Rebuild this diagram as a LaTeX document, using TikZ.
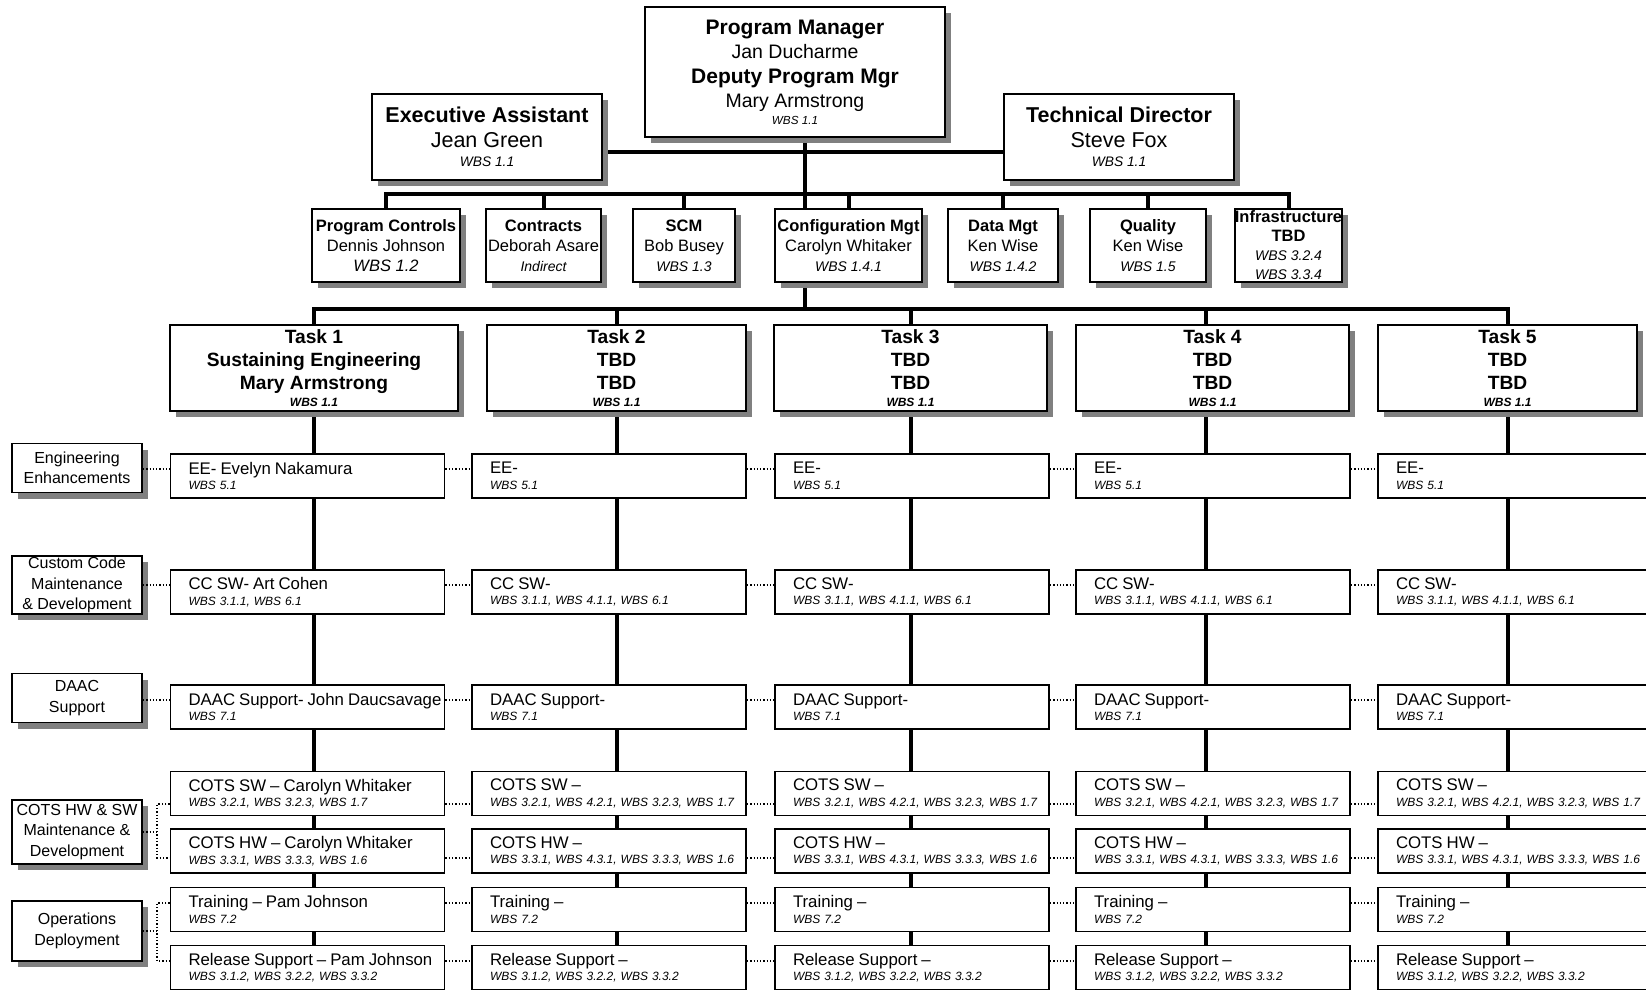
\documentclass[tikz,border=0pt]{standalone}
\usepackage{fontspec}
\setmainfont{Liberation Sans}
\usetikzlibrary{backgrounds,shadows}
\newcommand{\fsz}[2]{\fontsize{#1}{#2}\selectfont}

\begin{document}
\begin{tikzpicture}[x=1pt,y=-1pt,
    box/.style={draw,line width=1.8pt,fill=white,inner sep=0pt,align=center},
    shd/.style={general shadow={fill=black!50,shadow xshift=6pt,shadow yshift=-6pt}},
    head/.style={box,shd,font=\fsz{21.5}{25}},
    staff/.style={box,shd,minimum height=73pt,font=\fsz{16.5}{20}},
    task/.style={box,shd,minimum height=86pt,font=\fsz{19.2}{23}\bfseries},
    sub/.style={box,minimum height=44pt,text width=238pt,inner xsep=18pt,align=left,font=\fsz{12}{15.5}},
    cat/.style={box,shd,minimum width=130pt,font=\fsz{16}{20.5}},
    link/.style={line width=4pt,line cap=rect},
    dot/.style={dotted,line width=1.3pt}]
\useasboundingbox (0,0) rectangle (1646,989);

\coordinate (eb) at (805,152);
\coordinate (sb) at (805,194);
\coordinate (tb) at (805,309);
\coordinate (bx) at (157,0);
\foreach \r/\y in {1/469,2/585,3/700,4/804,5/858,6/903,7/961}
  \coordinate (dl\r) at (0,\y);

% management
\node[head,minimum width=300,minimum height=130,font=\fsz{21}{24.5}] (pm) at (795,72)
  {\textbf{Program Manager}\\{\fsz{19.5}{24}Jan Ducharme}\\\textbf{Deputy Program Mgr}\\{\fsz{19.5}{24}Mary Armstrong}\\[-8pt]{\fsz{11.7}{14}\itshape WBS 1.1}};
\node[head,minimum width=230,minimum height=86] (ea) at (487,137)
  {\textbf{Executive Assistant}\\Jean Green\\[-5.5pt]{\fsz{13.8}{16}\itshape WBS 1.1}};
\node[head,minimum width=230,minimum height=86] (td) at (1119,137)
  {\textbf{Technical Director}\\Steve Fox\\[-5.5pt]{\fsz{13.8}{16}\itshape WBS 1.1}};

% staff
\node[staff,minimum width=148] (pc) at (386,245.5)
  {\textbf{Program Controls}\\Dennis Johnson\\\textit{WBS 1.2}};
\foreach \n/\x/\w/\ttl/\who/\wbs in {con/543.5/115/Contracts/Deborah Asare/Indirect,
    scm/684/102/SCM/Bob Busey/WBS 1.3, cfg/848.5/147/Configuration Mgt/Carolyn Whitaker/WBS 1.4.1,
    dat/1003/110/Data Mgt/Ken Wise/WBS 1.4.2, qua/1148/116/Quality/Ken Wise/WBS 1.5}
  \node[staff,minimum width=\w] (\n) at (\x,245.5)
    {\textbf{\ttl}\\\who\\{\fsz{14}{16}\itshape\wbs}};
\node[staff,minimum width=107,font=\fsz{16.5}{19}] (inf) at (1288.5,245.5)
  {\textbf{Infrastructure}\\\textbf{TBD}\\{\fsz{14}{16}\itshape WBS 3.2.4}\\{\fsz{14}{16}\itshape WBS 3.3.4}};

% tasks
\foreach \c/\x/\w/\ttl/\who in {1/314/288/Sustaining Engineering/Mary Armstrong,
    2/616.5/259/TBD/TBD, 3/910.5/273/TBD/TBD, 4/1212.5/273/TBD/TBD, 5/1507.5/259/TBD/TBD}
  \node[task,minimum width=\w] (t\c) at (\x,368)
    {Task \c\\\ttl\\\who\\[-6.7pt]{\fsz{12}{14}\itshape WBS 1.1}};

% work packages
\foreach \r/\y/\ttl/\wbs in {1/476/EE- Evelyn Nakamura/{WBS 5.1},
    2/592/CC SW- Art Cohen/{WBS 3.1.1, WBS 6.1},
    3/707/DAAC Support- John Daucsavage/{WBS 7.1},
    4/793.5/COTS SW – Carolyn Whitaker/{WBS 3.2.1, WBS 3.2.3, WBS 1.7},
    5/851/COTS HW – Carolyn Whitaker/{WBS 3.3.1, WBS 3.3.3, WBS 1.6},
    6/909.5/Training – Pam Johnson/{WBS 7.2},
    7/967.5/Release Support – Pam Johnson/{WBS 3.1.2, WBS 3.2.2, WBS 3.3.2}}
  \node[sub] (s1\r) at (307.5,\y) {\mbox{\fsz{16.8}{19}\ttl}\\\mbox{\itshape\wbs}};
\foreach \c/\xc in {2/609,3/912,4/1213,5/1515}
  \foreach \r/\y/\ttl/\wbs in {1/476/EE-/{WBS 5.1},
      2/592/CC SW-/{WBS 3.1.1, WBS 4.1.1, WBS 6.1},
      3/707/DAAC Support-/{WBS 7.1},
      4/793.5/COTS SW –/{WBS 3.2.1, WBS 4.2.1, WBS 3.2.3, WBS 1.7},
      5/851/COTS HW –/{WBS 3.3.1, WBS 4.3.1, WBS 3.3.3, WBS 1.6},
      6/909.5/Training –/{WBS 7.2},
      7/967.5/Release Support –/{WBS 3.1.2, WBS 3.2.2, WBS 3.3.2}}
    \node[sub] (s\c\r) at (\xc,\y) {\mbox{\fsz{16.8}{19}\ttl}\\\mbox{\itshape\wbs}};

% categories
\node[cat,minimum height=49] (cat1) at (77,468) {Engineering\\Enhancements};
\node[cat,minimum height=58] (cat2) at (77,585) {Custom Code\\Maintenance\\\& Development};
\node[cat,minimum height=49] (cat3) at (77,698) {DAAC\\Support};
\node[cat,minimum height=64] (cat4) at (77,832) {COTS HW \& SW\\Maintenance \&\\Development};
\node[cat,minimum height=60] (cat5) at (77,931) {Operations\\Deployment};

\begin{scope}[on background layer]
\draw[link] (ea.east |- eb) -- (td.west |- eb);
\draw[link] (tb |- pm.south) -- (tb);
\draw[link] (pc.north |- sb) -- (inf.north |- sb);
\foreach \n in {pc,con,scm,cfg,dat,qua,inf}
  \draw[link] (\n.north) -- (\n.north |- sb);
\draw[link] (t1.north |- tb) -- (t5.north |- tb);
\foreach \c/\dx in {1/0,2/0,3/0,4/-7,5/0} {
  \draw[link] ([xshift=\dx pt]t\c.north) -- ([xshift=\dx pt]t\c.north |- tb);
  \draw[link] ([xshift=\dx pt]t\c.south) -- ([xshift=\dx pt]t\c.south |- s\c7.north);
}
\end{scope}

% dotted ties
\foreach \r in {1,2,3}
  \draw[dot] (cat\r.east |- dl\r) -- (s1\r.west |- dl\r);
\draw[dot] (s14.west |- dl4) -- (bx |- dl4) -- (bx |- dl5) -- (s15.west |- dl5);
\draw[dot] (cat4.east) -- (bx |- cat4.east);
\draw[dot] (s16.west |- dl6) -- (bx |- dl6) -- (bx |- dl7) -- (s17.west |- dl7);
\draw[dot] (cat5.east) -- (bx |- cat5.east);
\foreach \r in {1,...,7}
  \foreach \c/\n in {1/2,2/3,3/4,4/5}
    \draw[dot] (s\c\r.east |- dl\r) -- (s\n\r.west |- dl\r);
\end{tikzpicture}
\end{document}
